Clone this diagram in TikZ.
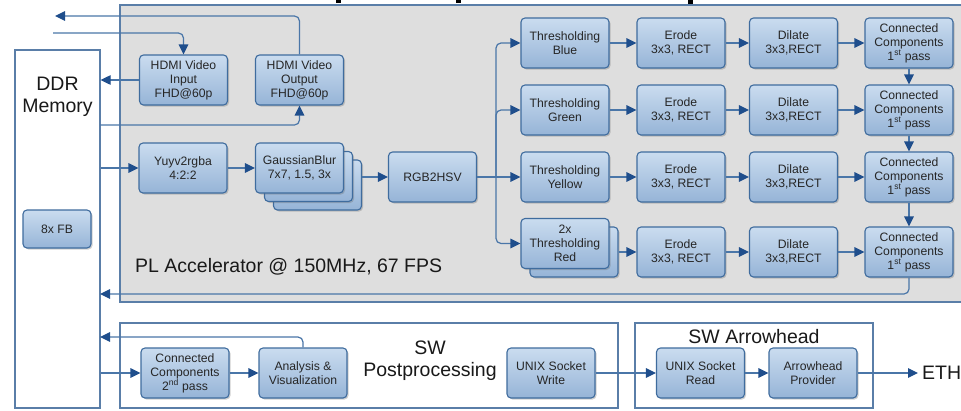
\documentclass[tikz,border=0pt]{standalone}
\usepackage{fontspec}
\setmainfont{Liberation Sans}
\usetikzlibrary{arrows.meta,shadows}
\definecolor{boxtop}{HTML}{CADCEF}
\definecolor{boxbot}{HTML}{96B4D7}
\definecolor{boxline}{HTML}{3F6C9E}
\definecolor{lnc}{HTML}{4A76A8}
\definecolor{tipc}{HTML}{1F4E8C}
\definecolor{plfill}{HTML}{DEDEDE}
\definecolor{frame}{HTML}{5A7EA8}
\definecolor{txt}{HTML}{262626}
\tikzset{
  blk/.style={draw=boxline, line width=1.1pt, rounded corners=4pt,
    top color=boxtop, bottom color=boxbot,
    minimum width=88pt, minimum height=50pt, align=center, inner sep=1pt,
    font=\fontsize{12.2}{14}\selectfont, text=txt,
    drop shadow={shadow xshift=1.5pt, shadow yshift=-1.5pt, opacity=.3, fill=black!60}},
  ln/.style={draw=lnc, line width=1.2pt},
  arr/.style={ln, -{Triangle[length=10pt,width=9.5pt,color=tipc]}},
  big/.style={font=\fontsize{19.5}{22}\selectfont, text=black!90, align=center, inner sep=0pt},
  region/.style={draw=frame, line width=1.2pt}
}
\begin{document}
\begin{tikzpicture}[x=1pt,y=-1pt]
\useasboundingbox (0,0) rectangle (961,410);

% tails of the heading cut off at the top edge
\fill[black] (336,0) rectangle (341,2.5);
\fill[black] (456,0) rectangle (461,2.5);
\fill[black] (688,0) rectangle (693,4.5);

% programmable-logic area
\path[region, fill=plfill] (120,5) rectangle (964,302);
\node[big, anchor=west] (pltxt) at (135,267) {PL Accelerator @ 150MHz, 67 FPS};

% software frames
\path[region, fill=white] (120,323) rectangle (618,408);
\path[region, fill=white] (635,323) rectangle (873,408);
\node[big] (swpp) at (430,361) {SW\\Postprocessing};
\node[big] (swah) at (754,337) {SW Arrowhead};

% memory
\node[region, fill=white, minimum width=85pt, minimum height=358pt, inner sep=0pt] (ddr) at (57.5,229) {};
\node[big] (ddrtxt) at (57.5,97) {DDR\\Memory};
\node[blk, minimum width=68pt, minimum height=38pt] (fb) at (57,229) {8x FB};

% HDMI blocks
\node[blk] (hin) at (183.5,80) {HDMI Video\\Input\\FHD@60p};
\node[blk] (hout) at (299.5,80) {HDMI Video\\Output\\FHD@60p};

% front of the pipeline
\node[blk] (yuv) at (183,168) {Yuyv2rgba\\4:2:2};
\node[blk] (gb3) at (317.5,185) {};
\node[blk] (gb2) at (308.5,176.5) {};
\node[blk] (gb1) at (299.5,168) {GaussianBlur\\7x7, 1.5, 3x};
\node[blk] (rgb) at (432.5,177) {RGB2HSV};

% colour channels
\node[blk] (th1) at (565,43) {Thresholding\\Blue};
\node[blk] (th2) at (565,110) {Thresholding\\Green};
\node[blk] (th3) at (565,177) {Thresholding\\Yellow};
\node[blk] (th4b) at (574,252) {};
\node[blk] (th4) at (565,243.5) {2x\\Thresholding\\Red};

\foreach \r/\y in {1/43,2/110,3/177,4/252}{
  \node[blk] (er\r) at (681,\y) {Erode\\3x3, RECT};
  \node[blk] (di\r) at (793.5,\y) {Dilate\\3x3,RECT};
  \node[blk] (cc\r) at (909,\y) {Connected\\Components\\1\textsuperscript{st} pass};
}

% software blocks
\node[blk] (ccp) at (185,373) {Connected\\Components\\2\textsuperscript{nd} pass};
\node[blk] (ana) at (303,373) {Analysis \&\\Visualization};
\node[blk] (uw) at (551,373) {UNIX Socket\\Write};
\node[blk] (ur) at (700.5,373) {UNIX Socket\\Read};
\node[blk] (ap) at (813,373) {Arrowhead\\Provider};
\node[big, anchor=west, inner xsep=4pt] (eth) at (918,373) {ETH};

% free ends and bus points
\coordinate (outL) at (55,16);
\coordinate (inL) at (53,33);
\coordinate (memOut) at (100,125);
\coordinate (bus) at (496,177);
\coordinate (back) at (100,294);
\coordinate (anaBack) at (100,337);

% HDMI connections
\draw[arr, rounded corners=5pt] (hout.north) |- (outL);
\draw[arr, rounded corners=5pt] (inL) -| (hin.north);
\draw[arr] (hin.west) -- (hin.west -| ddr.east);
\draw[arr, rounded corners=5pt] (memOut) -| (hout.south);

% pipeline connections
\draw[arr] (yuv.west -| ddr.east) -- (yuv.west);
\draw[arr] (yuv.east) -- (gb1.west);
\draw[arr] (gb3.east |- rgb.west) -- (rgb.west);
\draw[arr] (rgb.east) -- (th3.west);
\draw[arr, rounded corners=5pt] (bus) |- (th1.west);
\draw[arr, rounded corners=5pt] (bus) |- (th2.west);
\draw[arr, rounded corners=5pt] (bus) |- (th4.west);
\draw[arr] (th1.east) -- (er1.west);
\draw[arr] (th2.east) -- (er2.west);
\draw[arr] (th3.east) -- (er3.west);
\draw[arr] (th4b.east |- er4.west) -- (er4.west);
\foreach \r in {1,2,3,4}{
  \draw[arr] (er\r.east) -- (di\r.west);
  \draw[arr] (di\r.east) -- (cc\r.west);
}
\draw[arr] (cc1.south) -- (cc2.north);
\draw[arr] (cc2.south) -- (cc3.north);
\draw[arr] (cc3.south) -- (cc4.north);
\draw[arr, rounded corners=5pt] (cc4.south) |- (back);

% software connections
\draw[arr] (ccp.west -| ddr.east) -- (ccp.west);
\draw[arr] (ccp.east) -- (ana.west);
\draw[arr, rounded corners=5pt] (ana.north) |- (anaBack);
\draw[arr] (uw.east) -- (ur.west);
\draw[arr] (ur.east) -- (ap.west);
\draw[arr] (ap.east) -- (eth.west);
\end{tikzpicture}
\end{document}
